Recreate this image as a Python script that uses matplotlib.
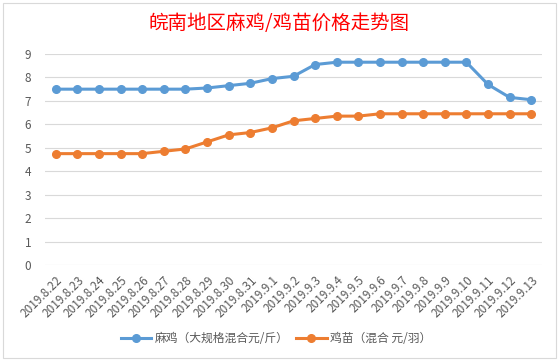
import matplotlib
matplotlib.use('Agg')
import matplotlib.pyplot as plt
from matplotlib.patches import Rectangle

plt.rcParams['font.family'] = ['Noto Sans CJK SC', 'DejaVu Sans']

dates = ['2019.8.22', '2019.8.23', '2019.8.24', '2019.8.25', '2019.8.26', '2019.8.27',
         '2019.8.28', '2019.8.29', '2019.8.30', '2019.8.31', '2019.9.1', '2019.9.2',
         '2019.9.3', '2019.9.4', '2019.9.5', '2019.9.6', '2019.9.7', '2019.9.8',
         '2019.9.9', '2019.9.10', '2019.9.11', '2019.9.12', '2019.9.13']
maji = [7.5, 7.5, 7.5, 7.5, 7.5, 7.5, 7.5, 7.55, 7.65, 7.75, 7.95, 8.05,
        8.55, 8.65, 8.65, 8.65, 8.65, 8.65, 8.65, 8.65, 7.7, 7.15, 7.05]
jimiao = [4.75, 4.75, 4.75, 4.75, 4.75, 4.85, 4.95, 5.25, 5.55, 5.65, 5.85, 6.15,
          6.25, 6.35, 6.35, 6.45, 6.45, 6.45, 6.45, 6.45, 6.45, 6.45, 6.45]
yticks = list(range(0, 10))

label_maji = '麻鸡（大规格混合元/斤）'
label_jimiao = '鸡苗（混合 元/羽）'
title = '皖南地区麻鸡/鸡苗价格走势图'

blue = '#5B9BD5'
orange = '#ED7D31'
grey = '#595959'

fig = plt.figure(figsize=(5.6, 3.62), dpi=100)
W, H = 560, 362

# chart area border
fig.add_artist(Rectangle((3 / W, 1 - 358 / H), 553 / W, 355 / H, transform=fig.transFigure,
                         fill=False, edgecolor='#D9D9D9', linewidth=0.8))

ax = fig.add_axes([45 / W, 1 - 265 / H, 497 / W, 211 / H])
x = list(range(len(dates)))
ax.plot(x, maji, color=blue, lw=2.2, marker='o', ms=5.5, label=label_maji, zorder=3)
ax.plot(x, jimiao, color=orange, lw=2.2, marker='o', ms=5.5, label=label_jimiao, zorder=3)

ax.set_xlim(-0.5, len(dates) - 0.5)
ax.set_ylim(0, 9)
ax.set_yticks(yticks)
ax.grid(axis='y', color='#D9D9D9', lw=0.8)
ax.set_axisbelow(True)
for s in ax.spines.values():
    s.set_visible(False)
ax.tick_params(axis='both', length=0, colors=grey, labelsize=8.5)
ax.tick_params(axis='y', pad=10)
ax.set_xticks(x)
ax.set_xticklabels(dates, rotation=45, ha='right', rotation_mode='anchor')
ax.tick_params(axis='x', pad=6)

fig.text(279 / W, 1 - 23 / H, title, color='red', fontsize=14, ha='center', va='center',
         fontweight='medium')

leg = fig.legend(loc='center', bbox_to_anchor=(276 / W, 1 - 339 / H), ncol=2, frameon=False,
                 fontsize=8.5, handlelength=2.6, columnspacing=0.6, handletextpad=0.3)
for t in leg.get_texts():
    t.set_color(grey)

fig.savefig('out.png', dpi=100)
